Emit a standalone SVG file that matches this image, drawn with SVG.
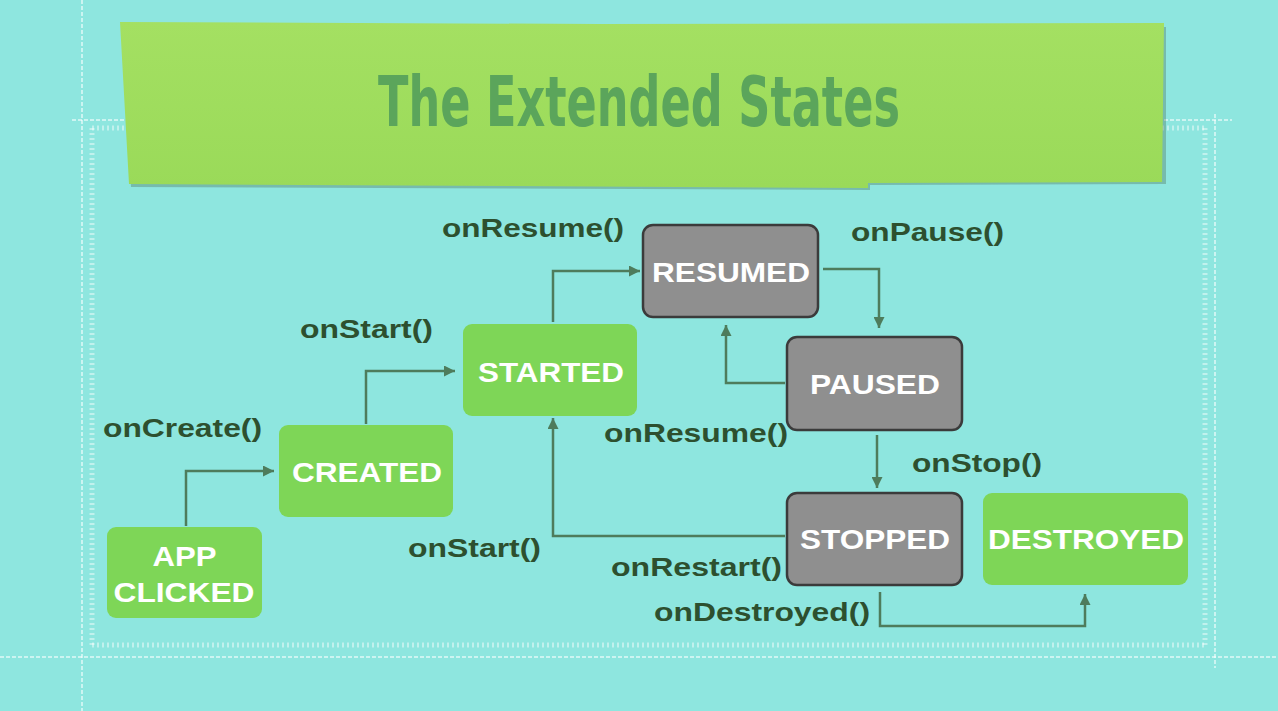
<svg xmlns="http://www.w3.org/2000/svg" width="1278" height="711" viewBox="0 0 1278 711">
<defs>
<style>
.bg{fill:#8ee6df}
.dash{stroke:#ffffff;stroke-opacity:.55;stroke-width:2;fill:none;stroke-dasharray:4 2}
.tri{stroke:#ffffff;stroke-opacity:.45;stroke-width:5;fill:none;stroke-dasharray:2 3}
.green{fill:#7ed657}
.gray{fill:#8f8f8f;stroke:#3b3b3b;stroke-width:2.5}
.nt{font-family:"Liberation Sans",Arial,sans-serif;font-weight:bold;font-size:28px;fill:#ffffff;text-anchor:middle}
.lb{font-family:"Liberation Sans",Arial,sans-serif;font-weight:bold;font-size:25px;fill:#2d502f}
.cn{fill:none;stroke:#4e7c5c;stroke-width:2.5}
</style>
<marker id="ah" viewBox="0 0 10 10" refX="10" refY="5" markerWidth="12" markerHeight="11" markerUnits="userSpaceOnUse" orient="auto">
<path d="M0,0 L10,5 L0,10 z" fill="#4e7c5c"/>
</marker>
<linearGradient id="bn" x1="0" y1="0" x2="0" y2="1">
<stop offset="0" stop-color="#a4e062"/>
<stop offset="1" stop-color="#9ada59"/>
</linearGradient>
</defs>
<rect class="bg" x="0" y="0" width="1278" height="711"/>
<g id="frame">
<line class="dash" x1="82" y1="0" x2="82" y2="711"/>
<line class="tri" x1="92" y1="128" x2="92" y2="645"/>
<line class="dash" x1="72" y1="120" x2="1232" y2="120"/>
<line class="tri" x1="92" y1="128" x2="1205" y2="128"/>
<line class="dash" x1="1215" y1="114" x2="1215" y2="668"/>
<line class="tri" x1="1205" y1="128" x2="1205" y2="645"/>
<line class="tri" x1="92" y1="645" x2="1205" y2="645"/>
<line class="dash" x1="0" y1="657" x2="1278" y2="657"/>
</g>
<g id="banner">
<path d="M122,25 L1166,27 L1166,184 L870,185 L870,190 L131,187 Z" fill="#3f5a3a" opacity=".3"/>
<path d="M120,22 L600,24 L1164,23 L1162,182 L868,183 L868,188 L129,184 Z" fill="url(#bn)"/>
<text x="639" y="126" font-family="'DejaVu Sans Condensed','DejaVu Sans',sans-serif" font-weight="bold" font-size="70" fill="#5ba55b" text-anchor="middle" textLength="522" lengthAdjust="spacingAndGlyphs">The Extended States</text>
</g>
<g id="connectors">
<path class="cn" d="M186,526 L186,471 L274,471" marker-end="url(#ah)"/>
<path class="cn" d="M366,424 L366,371 L455,371" marker-end="url(#ah)"/>
<path class="cn" d="M553,322 L553,271 L640,271" marker-end="url(#ah)"/>
<path class="cn" d="M823,269 L879,269 L879,328" marker-end="url(#ah)"/>
<path class="cn" d="M785,383 L726,383 L726,325" marker-end="url(#ah)"/>
<path class="cn" d="M877,435 L877,488" marker-end="url(#ah)"/>
<path class="cn" d="M785,536 L553,536 L553,418" marker-end="url(#ah)"/>
<path class="cn" d="M880,592 L880,626 L1085,626 L1085,594" marker-end="url(#ah)"/>
</g>
<g id="app-clicked">
<rect class="green" x="107" y="527" width="155" height="91" rx="9"/>
<text class="nt" x="184.5" y="566" textLength="64" lengthAdjust="spacingAndGlyphs">APP</text>
<text class="nt" x="184" y="602" textLength="141" lengthAdjust="spacingAndGlyphs">CLICKED</text>
</g>
<g id="created">
<rect class="green" x="279" y="425" width="174" height="92" rx="9"/>
<text class="nt" x="367" y="482" textLength="150" lengthAdjust="spacingAndGlyphs">CREATED</text>
</g>
<g id="started">
<rect class="green" x="463" y="324" width="174" height="92" rx="9"/>
<text class="nt" x="551" y="382" textLength="146" lengthAdjust="spacingAndGlyphs">STARTED</text>
</g>
<g id="resumed">
<rect class="gray" x="643" y="225" width="175" height="92" rx="10"/>
<text class="nt" x="731" y="282" textLength="158" lengthAdjust="spacingAndGlyphs">RESUMED</text>
</g>
<g id="paused">
<rect class="gray" x="787" y="337" width="175" height="93" rx="10"/>
<text class="nt" x="875" y="394" textLength="130" lengthAdjust="spacingAndGlyphs">PAUSED</text>
</g>
<g id="stopped">
<rect class="gray" x="787" y="493" width="175" height="92" rx="10"/>
<text class="nt" x="875" y="549" textLength="150" lengthAdjust="spacingAndGlyphs">STOPPED</text>
</g>
<g id="destroyed">
<rect class="green" x="983" y="493" width="205" height="92" rx="9"/>
<text class="nt" x="1086" y="549" textLength="196" lengthAdjust="spacingAndGlyphs">DESTROYED</text>
</g>
<g id="labels">
<text class="lb" x="103" y="437" textLength="159" lengthAdjust="spacingAndGlyphs">onCreate()</text>
<text class="lb" x="300" y="338" textLength="133" lengthAdjust="spacingAndGlyphs">onStart()</text>
<text class="lb" x="442" y="237" textLength="182" lengthAdjust="spacingAndGlyphs">onResume()</text>
<text class="lb" x="851" y="241" textLength="153" lengthAdjust="spacingAndGlyphs">onPause()</text>
<text class="lb" x="604" y="442" textLength="184" lengthAdjust="spacingAndGlyphs">onResume()</text>
<text class="lb" x="912" y="472" textLength="130" lengthAdjust="spacingAndGlyphs">onStop()</text>
<text class="lb" x="408" y="557" textLength="133" lengthAdjust="spacingAndGlyphs">onStart()</text>
<text class="lb" x="611" y="576" textLength="171" lengthAdjust="spacingAndGlyphs">onRestart()</text>
<text class="lb" x="654" y="621" textLength="216" lengthAdjust="spacingAndGlyphs">onDestroyed()</text>
</g>
</svg>
